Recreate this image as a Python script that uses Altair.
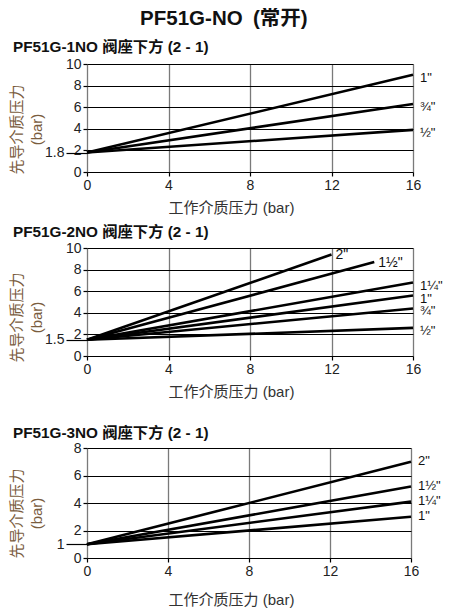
import altair as alt
import pandas as pd

FONT = "Liberation Sans, Arial, Noto Sans CJK SC"
CJK = "Liberation Sans, Noto Sans CJK SC"

MAIN_TITLE = "PF51G-NO\u2002(常开)"
X_TITLE = "工作介质压力 (bar)"
Y_TITLE = ["先导介质压力", "(bar)"]
X_TICKS = [0, 4, 8, 12, 16]

# Panel 1
p1_title = "PF51G-1NO 阀座下方 (2 - 1)"
p1_sizes = ['1"', '¾"', '½"']
p1_start = 1.8
p1_end_x = [16, 16, 16]
p1_end_y = [9.0, 6.3, 3.9]
p1_ymax = 10
p1_yticks = [0, 2, 4, 6, 8, 10]
p1_inside = []

# Panel 2
p2_title = "PF51G-2NO 阀座下方 (2 - 1)"
p2_sizes = ['2"', '1½"', '1¼"', '1"', '¾"', '½"']
p2_start = 1.5
p2_end_x = [12, 14.1, 16, 16, 16, 16]
p2_end_y = [9.4, 8.7, 6.8, 5.6, 4.4, 2.6]
p2_ymax = 10
p2_yticks = [0, 2, 4, 6, 8, 10]
p2_inside = ['2"', '1½"']

# Panel 3
p3_title = "PF51G-3NO 阀座下方 (2 - 1)"
p3_sizes = ['2"', '1½"', '1¼"', '1"']
p3_start = 1.0
p3_end_x = [16, 16, 16, 16]
p3_end_y = [7.0, 5.2, 4.1, 3.0]
p3_ymax = 8
p3_yticks = [0, 2, 4, 6, 8]
p3_inside = []


def panel(title, sizes, start, ex, ey, ymax, yticks, inside, w, h,
          xt_y, yt_y, title_offset, lbl_dy):
    rows = []
    for s, x1, y1 in zip(sizes, ex, ey):
        rows.append(dict(size=s, x=0, y=start))
        rows.append(dict(size=s, x=x1, y=y1))
    lines_df = pd.DataFrame(rows)
    ends = pd.DataFrame(dict(size=sizes, x=ex, y=ey,
                             inside=[s in inside for s in sizes]))
    xenc = alt.X("x:Q", scale=alt.Scale(domain=[0, 16], nice=False),
                 axis=alt.Axis(values=X_TICKS, grid=True, gridColor="#7a7a7a",
                               gridWidth=1.3, domain=False, tickSize=4,
                               tickColor="black", tickWidth=1.2,
                               labelFlush=False,
                               labelFontSize=14, labelFont=FONT,
                               labelColor="#222", labelPadding=2,
                               title=X_TITLE, titleFont=CJK, titleFontSize=15,
                               titleFontWeight="normal", titleColor="#333",
                               titleX=144, titleY=xt_y, titleBaseline="middle",
                               titleAlign="center"))
    yenc = alt.Y("y:Q", scale=alt.Scale(domain=[0, ymax], nice=False),
                 axis=alt.Axis(values=yticks, grid=True, gridColor="black",
                               gridWidth=1, domain=False, tickSize=4,
                               tickColor="black", tickWidth=1.2,
                               labelPadding=2, labelOverlap=False,
                               labelFontSize=14, labelFont=FONT, labelColor="#222",
                               title=Y_TITLE, titleFont=CJK, titleFontSize=15,
                               titleFontWeight="normal", titleColor="#7a5c3e",
                               titleAngle=-90, titleX=-78, titleY=yt_y,
                               titleAlign="center", titleBaseline="top",
                               titleLineHeight=20))
    # second left axis marking the starting pilot pressure
    yenc_start = alt.Y("y:Q",
                       axis=alt.Axis(values=[start], orient="left", grid=False,
                                     format="~g",
                                     domain=False, tickSize=21, tickColor="black",
                                     tickWidth=1.2, labelPadding=2,
                                     labelOverlap=False, labelFontSize=14,
                                     labelFont=FONT, labelColor="#222",
                                     title=None))
    lines = alt.Chart(lines_df).mark_line(color="black", strokeWidth=2.6).encode(
        x=xenc, y=yenc, detail="size:N")
    out_lbl = alt.Chart(ends).transform_filter("!datum.inside").mark_text(
        align="left", baseline="middle", dx=7, dy=lbl_dy, fontSize=13,
        font=FONT, color="#111").encode(x="x:Q", y=yenc_start, text="size:N")
    in_lbl = alt.Chart(ends).transform_filter("datum.inside").mark_text(
        align="left", baseline="middle", dx=4, dy=1, fontSize=14,
        font=FONT, color="#111").encode(x="x:Q", y=alt.Y("y:Q", axis=None),
                                         text="size:N")
    return alt.layer(lines, out_lbl, in_lbl).resolve_axis(
        y="independent").properties(
        width=w, height=h,
        title=alt.TitleParams(title, anchor="start", frame="group", dx=-74,
                              fontSize=15.3, font=CJK, fontWeight="bold",
                              color="#111", offset=title_offset))


c1 = panel(p1_title, p1_sizes, p1_start, p1_end_x, p1_end_y, p1_ymax,
           p1_yticks, p1_inside, 326, 108, 35, 65, 2, 3)
c2 = panel(p2_title, p2_sizes, p2_start, p2_end_x, p2_end_y, p2_ymax,
           p2_yticks, p2_inside, 326, 108, 35, 69, 1, 3)
c3 = panel(p3_title, p3_sizes, p3_start, p3_end_x, p3_end_y, p3_ymax,
           p3_yticks, p3_inside, 324, 110, 41, 65, 0, -1)

top_pair = alt.vconcat(c1, c2, spacing=8)
chart = alt.vconcat(top_pair, c3, spacing=25).properties(
    title=alt.TitleParams(MAIN_TITLE, anchor="middle", dx=-2, fontSize=20.5,
                          font=CJK, fontWeight="bold", color="#111", offset=10)
).configure_view(stroke="black", strokeWidth=2.5).configure(
    padding={"left": 0, "top": 0, "right": 0, "bottom": 0})

chart.save("out.html", embed_options={"renderer": "svg", "actions": False})
